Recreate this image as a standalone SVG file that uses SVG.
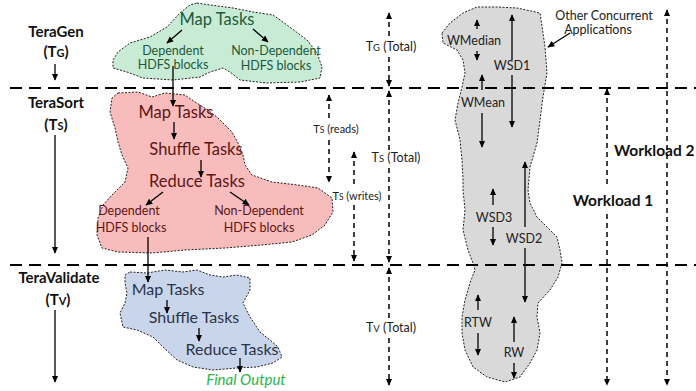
<svg xmlns="http://www.w3.org/2000/svg" width="696" height="391" viewBox="0 0 696 391">
  <defs>
    <marker id="ah" viewBox="0 0 10 10" refX="9" refY="5" markerWidth="7" markerHeight="7" markerUnits="userSpaceOnUse" orient="auto-start-reverse">
      <path d="M0,0.5 L10,5 L0,9.5 z" fill="#000"/>
    </marker>
    <style>
      text { font-family: Lato, "Liberation Sans", sans-serif; text-anchor: middle; }
      text.left { text-anchor: start; }
      .stage { font-size: 15px; font-weight: bold; fill: #111; }
      .cloud { stroke: #222; stroke-width: 1; stroke-dasharray: 2 1.5; stroke-linejoin: round; }
      .green { fill: #c8ebd6; }
      .pink { fill: #f9bcbc; }
      .blue { fill: #c9d5eb; }
      .gray { fill: #d9d9d9; }
      .arrow { stroke: #000; stroke-width: 1.3; fill: none; }
      .dash { stroke: #000; stroke-width: 1.5; stroke-dasharray: 5 4; fill: none; }
      .phase { stroke: #000; stroke-width: 2.2; stroke-dasharray: 12 7; fill: none; }
      .gt-big { font-size: 16.5px; fill: #1d5a3a; }
      .gt-small { font-size: 12.5px; fill: #1d5a3a; }
      .pt-big { font-size: 16.5px; fill: #5e1616; }
      .pt-small { font-size: 12.5px; fill: #5e1616; }
      .bt-big { font-size: 16px; fill: #2a3448; }
      .lbl { font-size: 12.5px; fill: #222; }
      .lbl-s { font-size: 11px; fill: #222; }
      .wl { font-size: 15.5px; font-weight: bold; fill: #111; }
    </style>
  </defs>

  <!-- stage names on the left -->
  <g id="teragen-label">
    <text class="stage" x="56" y="37">TeraGen</text>
    <text class="stage" x="56" y="57">(T<tspan font-size="11">G</tspan>)</text>
  </g>
  <g id="terasort-label">
    <text class="stage" x="56" y="108">TeraSort</text>
    <text class="stage" x="56" y="130">(T<tspan font-size="11">S</tspan>)</text>
  </g>
  <g id="teravalidate-label">
    <text class="stage" x="59" y="283">TeraValidate</text>
    <text class="stage" x="58" y="305">(T<tspan font-size="11">V</tspan>)</text>
  </g>

  <!-- TeraGen cloud -->
  <g id="teragen">
    <polygon class="cloud green" points="197,3 210,5 233,8 253,12 273,15 287,25 307,40 317,53 322,67 320,78 300,82 267,83 240,80 230,72 223,68 210,72 200,77 173,80 143,78 127,72 113,68 113,60 118,52 130,43 150,37 167,27 180,13 190,5"/>
    <text class="gt-big" x="217" y="25">Map Tasks</text>
    <text class="gt-small" x="173" y="55">Dependent</text>
    <text class="gt-small" x="173" y="69">HDFS blocks</text>
    <text class="gt-small" x="276" y="55">Non-Dependent</text>
    <text class="gt-small" x="276" y="70">HDFS blocks</text>
  </g>

  <!-- TeraSort cloud -->
  <g id="terasort">
    <polygon class="cloud pink" points="118,93 138,92 152,97 165,93 185,95 195,102 208,110 218,118 232,132 238,143 243,155 245,165 252,175 272,182 298,185 318,188 332,198 333,212 325,225 312,235 292,242 262,245 225,248 185,250 152,253 118,252 102,248 97,235 98,218 103,205 112,195 125,182 128,168 122,155 118,142 115,128 110,112 112,98"/>
    <text class="pt-big" x="176" y="118">Map Tasks</text>
    <text class="pt-big" x="196" y="155">Shuffle Tasks</text>
    <text class="pt-big" x="197" y="187">Reduce Tasks</text>
    <text class="pt-small" x="129" y="215">Dependent</text>
    <text class="pt-small" x="131" y="232">HDFS blocks</text>
    <text class="pt-small" x="259" y="215">Non-Dependent</text>
    <text class="pt-small" x="259" y="232">HDFS blocks</text>
  </g>

  <!-- TeraValidate cloud -->
  <g id="teravalidate">
    <polygon class="cloud blue" points="130,272 147,273 165,270 183,272 197,270 210,275 223,277 237,275 250,278 250,290 243,303 250,317 260,332 270,340 278,347 282,357 273,363 257,367 237,368 213,370 193,367 177,360 163,347 153,337 137,330 123,327 120,313 125,303 127,293 125,283 125,275"/>
    <text class="bt-big" x="168" y="295">Map Tasks</text>
    <text class="bt-big" x="194" y="323">Shuffle Tasks</text>
    <text class="bt-big" x="232" y="355">Reduce Tasks</text>
  </g>
  <g id="final-output">
    <text x="246" y="385" font-size="15" font-style="italic" fill="#2ab54a">Final Output</text>
  </g>

  <!-- other concurrent applications -->
  <g id="other-apps">
    <polygon class="cloud gray" points="442,33 450,23 463,13 477,7 497,7 517,8 540,13 543,33 545,47 547,73 543,97 540,120 537,143 530,167 528,190 530,203 537,217 547,227 557,237 560,250 562,263 558,277 550,290 538,303 537,317 540,333 537,350 530,363 520,377 505,382 487,377 473,367 465,350 462,333 462,317 465,300 470,283 475,270 473,263 468,250 463,230 465,210 463,190 463,180 462,160 460,140 455,120 458,103 462,87 465,73 463,60 457,50 443,43"/>
    <text class="lbl" x="474" y="45">WMedian</text>
    <text class="lbl" x="512" y="70">WSD1</text>
    <text class="lbl" x="483" y="107">WMean</text>
    <text class="lbl" x="494" y="222">WSD3</text>
    <text class="lbl" x="524" y="243">WSD2</text>
    <text class="lbl" x="478" y="327">RTW</text>
    <text class="lbl" x="514" y="357">RW</text>
    <text class="lbl" x="604" y="20">Other Concurrent</text>
    <text class="lbl" x="598" y="34">Applications</text>
  </g>

  <!-- time spans and workloads -->
  <g id="time-labels">
    <text class="lbl" x="391" y="51">T<tspan font-size="9.5">G</tspan> (Total)</text>
    <text class="lbl" x="396" y="162">T<tspan font-size="9.5">S</tspan> (Total)</text>
    <text class="lbl" x="391" y="332">T<tspan font-size="9.5">V</tspan> (Total)</text>
    <text class="lbl-s" x="336" y="133">T<tspan font-size="8.5">S</tspan> (reads)</text>
    <text class="lbl-s" x="357" y="200">T<tspan font-size="8.5">S</tspan> (writes)</text>
    <text class="wl" x="613" y="206">Workload 1</text>
    <text class="wl left" x="614" y="156">Workload 2</text>
  </g>

  <!-- connectors -->
  <g id="connectors">
    <!-- phase boundaries -->
    <line class="phase" x1="10" y1="88" x2="696" y2="88"/>
    <line class="phase" x1="10" y1="265" x2="696" y2="265"/>

    <!-- stage duration arrows -->
    <line class="arrow" x1="55" y1="64" x2="55" y2="80" marker-end="url(#ah)"/>
    <line class="arrow" x1="55" y1="135" x2="55" y2="253" marker-end="url(#ah)"/>
    <line class="arrow" x1="55" y1="310" x2="55" y2="382" marker-end="url(#ah)"/>

    <!-- inside TeraGen -->
    <line class="arrow" x1="182" y1="30" x2="167" y2="43" marker-end="url(#ah)"/>
    <line class="arrow" x1="253" y1="29" x2="268" y2="42" marker-end="url(#ah)"/>
    <line class="arrow" x1="173" y1="66" x2="173" y2="106" marker-end="url(#ah)"/>

    <!-- inside TeraSort -->
    <line class="arrow" x1="174" y1="122" x2="174" y2="139" marker-end="url(#ah)"/>
    <line class="arrow" x1="201" y1="160" x2="201" y2="177" marker-end="url(#ah)"/>
    <line class="arrow" x1="163" y1="192" x2="146" y2="205" marker-end="url(#ah)"/>
    <line class="arrow" x1="230" y1="192" x2="249" y2="205" marker-end="url(#ah)"/>
    <line class="arrow" x1="148" y1="237" x2="148" y2="282" marker-end="url(#ah)"/>

    <!-- inside TeraValidate -->
    <line class="arrow" x1="167" y1="300" x2="167" y2="313" marker-end="url(#ah)"/>
    <line class="arrow" x1="199" y1="328" x2="199" y2="341" marker-end="url(#ah)"/>
    <line class="arrow" x1="240" y1="358" x2="240" y2="372" marker-end="url(#ah)"/>

    <!-- total times -->
    <line class="dash" x1="389" y1="13" x2="389" y2="38" marker-start="url(#ah)"/>
    <line class="dash" x1="389" y1="57" x2="389" y2="86" marker-end="url(#ah)"/>
    <line class="dash" x1="389" y1="91" x2="389" y2="150" marker-start="url(#ah)"/>
    <line class="dash" x1="389" y1="168" x2="389" y2="262" marker-end="url(#ah)"/>
    <line class="dash" x1="389" y1="268" x2="389" y2="318" marker-start="url(#ah)"/>
    <line class="dash" x1="389" y1="338" x2="389" y2="385" marker-end="url(#ah)"/>

    <!-- reads / writes -->
    <line class="dash" x1="329" y1="95" x2="329" y2="120" marker-start="url(#ah)"/>
    <line class="dash" x1="329" y1="140" x2="329" y2="182" marker-end="url(#ah)"/>
    <line class="dash" x1="354" y1="152" x2="354" y2="187" marker-start="url(#ah)"/>
    <line class="dash" x1="354" y1="205" x2="354" y2="261" marker-end="url(#ah)"/>

    <!-- workloads -->
    <line class="dash" x1="607" y1="89" x2="607" y2="188" marker-start="url(#ah)"/>
    <line class="dash" x1="607" y1="214" x2="607" y2="385" marker-end="url(#ah)"/>
    <line class="dash" x1="667" y1="10" x2="667" y2="385" marker-start="url(#ah)" marker-end="url(#ah)"/>

    <!-- statistics in the concurrent cloud -->
    <line class="arrow" x1="477" y1="29" x2="477" y2="20" marker-end="url(#ah)"/>
    <line class="arrow" x1="477" y1="51" x2="477" y2="60" marker-end="url(#ah)"/>
    <line class="arrow" x1="512" y1="60" x2="512" y2="15" marker-end="url(#ah)"/>
    <line class="arrow" x1="512" y1="75" x2="512" y2="127" marker-end="url(#ah)"/>
    <line class="arrow" x1="482" y1="90" x2="482" y2="75" marker-end="url(#ah)"/>
    <line class="arrow" x1="482" y1="113" x2="482" y2="147" marker-end="url(#ah)"/>
    <line class="arrow" x1="525" y1="227" x2="525" y2="162" marker-end="url(#ah)"/>
    <line class="arrow" x1="525" y1="248" x2="525" y2="302" marker-end="url(#ah)"/>
    <line class="arrow" x1="493" y1="205" x2="493" y2="189" marker-end="url(#ah)"/>
    <line class="arrow" x1="493" y1="227" x2="493" y2="245" marker-end="url(#ah)"/>
    <line class="arrow" x1="478" y1="310" x2="478" y2="295" marker-end="url(#ah)"/>
    <line class="arrow" x1="478" y1="333" x2="478" y2="355" marker-end="url(#ah)"/>
    <line class="arrow" x1="514" y1="342" x2="514" y2="317" marker-end="url(#ah)"/>
    <line class="arrow" x1="514" y1="363" x2="514" y2="378" marker-end="url(#ah)"/>

    <!-- pointer to the concurrent cloud -->
    <line class="arrow" x1="570" y1="33" x2="548" y2="47" marker-end="url(#ah)"/>
  </g>
</svg>
